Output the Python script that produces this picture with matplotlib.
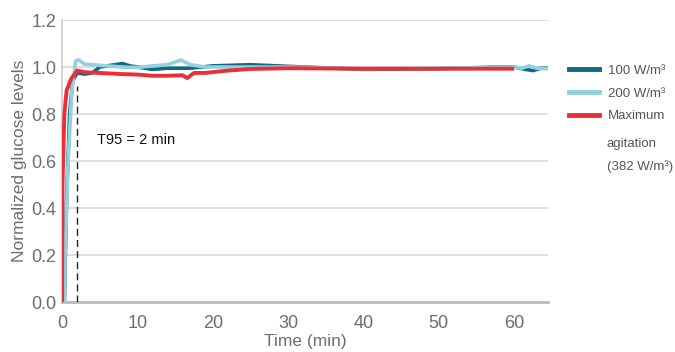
import matplotlib
matplotlib.use("Agg")
import matplotlib.pyplot as plt
from matplotlib.lines import Line2D

# Data
t_100 = [0.3, 0.6, 1.0, 1.4, 2.0, 3.0, 4.0, 5.0, 6.0, 7.0, 8.0, 9.0, 10.0, 12.0, 14.0, 17.0, 20.0, 25.0, 30.0, 40.0, 50.0, 58.0, 60.0, 61.5, 62.5, 63.5, 64.5]
v_100 = [0.0, 0.45, 0.8, 0.94, 0.975, 0.97, 0.975, 1.0, 1.005, 1.01, 1.015, 1.005, 1.0, 0.99, 0.995, 0.995, 1.005, 1.01, 1.003, 0.99, 0.993, 1.0, 1.0, 0.99, 0.985, 0.995, 0.995]

t_200 = [0.3, 0.4, 0.8, 1.3, 1.8, 2.2, 3.0, 4.0, 6.0, 8.0, 10.0, 12.0, 14.0, 15.8, 17.0, 19.0, 25.0, 30.0, 40.0, 50.0, 60.0, 61.0, 62.0, 63.0, 64.5]
v_200 = [0.0, 0.2, 0.6, 0.9, 1.025, 1.03, 1.012, 1.01, 1.005, 1.0, 0.998, 1.005, 1.01, 1.03, 1.01, 1.0, 1.0, 1.0, 0.993, 0.995, 1.0, 0.995, 1.005, 0.995, 0.993]

t_max = [0.0, 0.05, 0.3, 0.6, 1.2, 2.0, 3.0, 5.0, 8.0, 10.0, 12.0, 14.0, 16.0, 16.6, 17.5, 19.0, 22.0, 25.0, 30.0, 40.0, 50.0, 60.0]
v_max = [0.0, 0.5, 0.8, 0.9, 0.95, 0.985, 0.978, 0.975, 0.97, 0.968, 0.963, 0.963, 0.965, 0.953, 0.975, 0.975, 0.985, 0.992, 0.995, 0.993, 0.993, 0.993]

labels = ["100 W/m³", "200 W/m³", "Maximum"]
colors = ["#0f6a80", "#93d1de", "#ea2f38"]
t95 = 2

fig = plt.figure(figsize=(6.75, 3.52), dpi=100)
ax = fig.add_axes([0.092, 0.142, 0.72, 0.801])
plt.rcParams['font.family'] = ['Liberation Sans', 'DejaVu Sans']

ax.plot(t_100, v_100, color=colors[0], lw=2.6, solid_capstyle='butt', zorder=3)
ax.plot(t_200, v_200, color=colors[1], lw=2.6, solid_capstyle='butt', zorder=3)
ax.plot(t_max, v_max, color=colors[2], lw=2.8, solid_capstyle='butt', zorder=4)
ax.plot([t95, t95], [0, 0.92], color='#222222', lw=1.0, ls=(0, (5, 3)), zorder=5)
ax.text(4.6, 0.69, "T95 = 2 min", fontsize=10.5, color='#111111', va='center',
        family='Liberation Sans')

ax.set_xlim(0, 64.5)
ax.set_ylim(0, 1.2)
ax.set_xticks(range(0, 61, 10))
ax.set_yticks([0, 0.2, 0.4, 0.6, 0.8, 1.0, 1.2])
ax.set_yticklabels(["0.0", "0.2", "0.4", "0.6", "0.8", "1.0", "1.2"])
ax.yaxis.grid(True, color='#d9d9d9', lw=1.2)
ax.set_axisbelow(True)
for s in ['top', 'right']:
    ax.spines[s].set_visible(False)
ax.spines['left'].set_color('#cccccc')
ax.spines['left'].set_linewidth(1.2)
ax.spines['bottom'].set_color('#bbbbbb')
ax.spines['bottom'].set_linewidth(2)
ax.tick_params(length=0, labelsize=13, labelcolor='#6d6d6d')
ax.tick_params(axis='x', pad=9)
ax.tick_params(axis='y', pad=4)
for lab in ax.get_xticklabels() + ax.get_yticklabels():
    lab.set_family('Liberation Sans')
ax.set_xlabel("Time (min)", fontsize=12.5, color='#6d6d6d', labelpad=2, family='Liberation Sans')
ax.set_ylabel("Normalized glucose levels", fontsize=12.5, color='#6d6d6d', labelpad=3, family='Liberation Sans')

# Legend
handles = [Line2D([], [], color=c, lw=3.5) for c in colors]
leg = fig.legend(handles, labels, loc='upper left', bbox_to_anchor=(0.825, 0.85),
                 frameon=False, handlelength=2.3, handletextpad=0.7,
                 labelspacing=0.8, prop={'family': 'Liberation Sans', 'size': 9.5})
for tx in leg.get_texts():
    tx.set_color('#555555')
fig.text(0.899, 0.59, "agitation", fontsize=9.5, color='#555555', family='Liberation Sans', va='center')
fig.text(0.899, 0.528, "(382 W/m³)", fontsize=9.5, color='#555555', family='Liberation Sans', va='center')

fig.savefig("out.png", dpi=100)
